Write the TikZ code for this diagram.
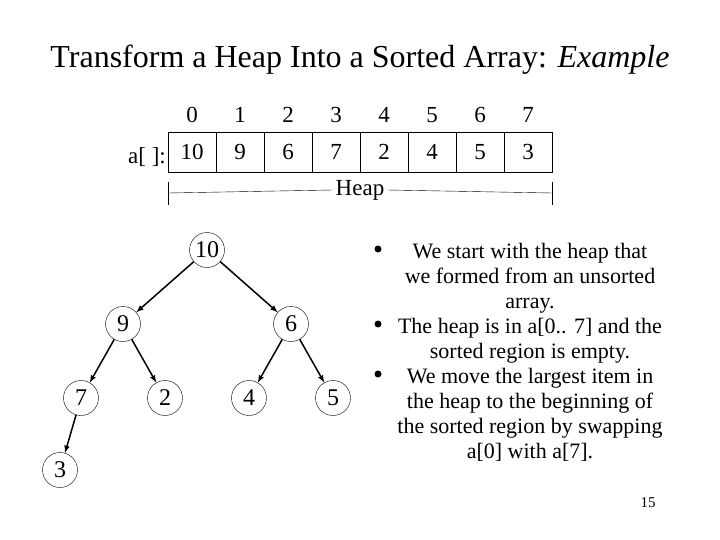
\documentclass[tikz,border=0pt]{standalone}
\usepackage{fontspec}
\setmainfont{Liberation Serif}
\begin{document}
\begin{tikzpicture}[x=1pt,y=-1pt,
  hn/.style={circle,draw,minimum size=35pt,inner sep=0pt,font=\fontsize{24}{24}\selectfont},
  cell/.style={draw,minimum width=48pt,minimum height=40pt,inner sep=0pt,font=\fontsize{23}{23}\selectfont},
  idx/.style={font=\fontsize{23}{23}\selectfont},
  arr/.style={-latex,line width=1.5pt},
  bt/.style={anchor=north,align=center,inner sep=0pt,font=\fontsize{22}{25}\selectfont}]
\useasboundingbox (0,0) rectangle (720,540);
\node (title) at (360,60) {\fontsize{32}{32}\selectfont Transform a Heap Into a Sorted Array: \textit{Example}};
\foreach \i/\v in {0/10,1/9,2/6,3/7,4/2,5/4,6/5,7/3}{
  \node[cell] (c\i) at (192+48*\i,152) {\v};
  \node[idx] (i\i) at (192+48*\i,115) {\i};
}
\node[idx,anchor=east,inner sep=0pt] (lab) at (166,157) {a[ ]:};
\node[idx,fill=white,inner sep=3pt] (heap) at (360,190) {Heap};
\coordinate (hl) at (168,193); \coordinate (hr) at (552,193);
\draw (hl) -- (heap.west); \draw (heap.east) -- (hr);
\draw (168,182) -- (168,205); \draw (552,182) -- (552,205);
\node[hn] (n10) at (207,250) {10};
\node[hn] (n9) at (123,324) {9};
\node[hn] (n6) at (291,324) {6};
\node[hn] (n7) at (81,398) {7};
\node[hn] (n2) at (165,398) {2};
\node[hn] (n4) at (249,398) {4};
\node[hn] (n5) at (333,398) {5};
\node[hn] (n3) at (60,470) {3};
\draw[arr] (n10) -- (n9); \draw[arr] (n10) -- (n6);
\draw[arr] (n9) -- (n7); \draw[arr] (n9) -- (n2);
\draw[arr] (n6) -- (n4); \draw[arr] (n6) -- (n5);
\draw[arr] (n7) -- (n3);
\foreach \y in {250,325,375}{\fill (378,\y-1) circle (3.5pt);}
\node[bt] (b1) at (530,243) {We start with the heap that\\we formed from an unsorted\\array.};
\node[bt] (b2) at (530,318) {The heap is in a[0.. 7] and the\\sorted region is empty.};
\node[bt] (b3) at (530,368) {We move the largest item in\\the heap to the beginning of\\the sorted region by swapping\\a[0] with a[7].};
\node[font=\fontsize{15}{15}\selectfont] (pg) at (648,503) {15};
\end{tikzpicture}
\end{document}
